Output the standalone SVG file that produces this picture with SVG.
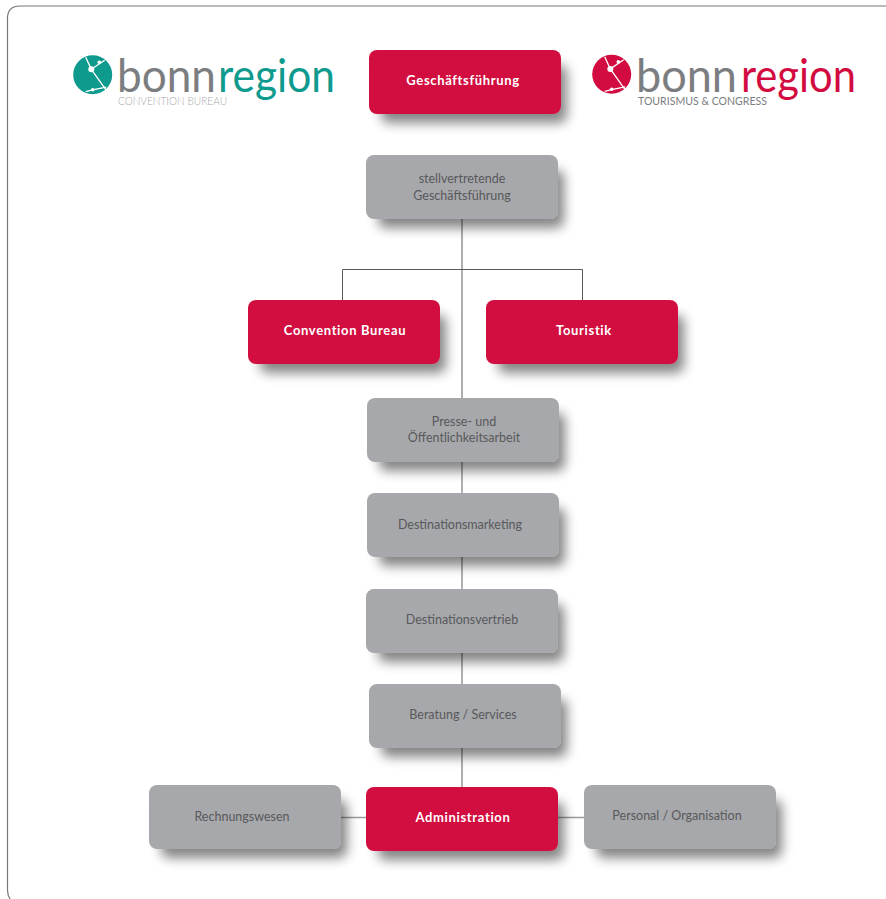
<svg xmlns="http://www.w3.org/2000/svg" width="886" height="899" viewBox="0 0 886 899">
<defs>
<filter id="sh" x="-15%" y="-30%" width="140%" height="200%"><feMorphology in="SourceAlpha" operator="erode" radius="3"/><feOffset dx="9" dy="12"/><feGaussianBlur stdDeviation="6"/><feColorMatrix values="0 0 0 0 0 0 0 0 0 0 0 0 0 0 0 0 0 0 .48 0" result="s"/><feMerge><feMergeNode in="s"/><feMergeNode in="SourceGraphic"/></feMerge></filter>
<g id="globe">
<circle r="19.5" fill="currentColor"/>
<g fill="none" stroke="#fff" stroke-width="1.3"><path d="M-7 -17.5L-1.4 -5.4L13.5 15.500M-1.4 -5.4L12 -14.5M-7 17L1 15L13.500 12.500"/></g>
<g fill="#fff"><circle cx="-1.400" cy="-5.400" r="3"/><circle cx="6.600" cy="-12.400" r="1.800"/><circle cx="0" cy="15" r="1.800"/></g>
</g>
</defs>
<style>
text{font-family:Lato,"Liberation Sans",sans-serif}
.n{filter:url(#sh)}
.r{fill:#d20c40}.g{fill:#a7a8ab}
.t{font-size:12.500px;fill:#58595b;text-anchor:middle}
.b{font-size:13px;font-weight:700;letter-spacing:.65px;fill:#fff;text-anchor:middle}
.w{font-size:46px;font-weight:400}
.s{font-size:11.500px;font-weight:300}
.c1{stroke:#9b9b9d;stroke-width:1.600;fill:none}
.c2{stroke:#59595b;stroke-width:1;fill:none}
</style>
<path d="M886 6H20Q7.500 6 7.500 18.500V890Q7.500 895 10 899" fill="none" stroke="#777" stroke-width="1.200"/>
<g id="connectors">
<path class="c1" d="M462 219V787M341 817.500H366M558 817.500H584"/>
<path class="c2" d="M342.500 300V269.500H582.500V300"/>
</g>
<g id="logo-convention" color="#0f9a8e">
<use href="#globe" x="92.700" y="74.700"/>
<text class="w" y="92" x="117" fill="#7c7d80" textLength="99" lengthAdjust="spacingAndGlyphs">bonn</text>
<text class="w" y="92" x="218" fill="#0f9a8e" textLength="117" lengthAdjust="spacingAndGlyphs">region</text>
<text class="s" x="118" y="105" fill="#a7a8ab" textLength="109" lengthAdjust="spacingAndGlyphs">CONVENTION BUREAU</text>
</g>
<g id="logo-tourismus" color="#d20c40">
<use href="#globe" x="611.700" y="74.300"/>
<text class="w" y="92" x="636" fill="#7c7d80" textLength="101" lengthAdjust="spacingAndGlyphs">bonn</text>
<text class="w" y="92" x="741" fill="#d20c40" textLength="115" lengthAdjust="spacingAndGlyphs">region</text>
<text class="s" style="font-weight:400" x="638" y="105" fill="#7c7d80" textLength="129" lengthAdjust="spacingAndGlyphs">TOURISMUS &amp; CONGRESS</text>
</g>
<g id="geschaeftsfuehrung"><rect class="n r" x="369" y="50" width="192" height="64" rx="8"/><text class="b" x="463" y="85">Geschäftsführung</text></g>
<g id="stellvertretende"><rect class="n g" x="366" y="155" width="192" height="64" rx="8"/><text class="t" x="462" y="183">stellvertretende</text><text class="t" x="462" y="200">Geschäftsführung</text></g>
<g id="convention-bureau"><rect class="n r" x="248" y="300" width="192" height="64" rx="8"/><text class="b" x="345" y="335">Convention Bureau</text></g>
<g id="touristik"><rect class="n r" x="486" y="300" width="192" height="64" rx="8"/><text class="b" x="584" y="335">Touristik</text></g>
<g id="presse"><rect class="n g" x="367" y="398" width="192" height="64" rx="8"/><text class="t" x="464" y="426">Presse- und</text><text class="t" x="464" y="442">Öffentlichkeitsarbeit</text></g>
<g id="destinationsmarketing"><rect class="n g" x="367" y="493" width="192" height="64" rx="8"/><text class="t" x="460" y="529">Destinationsmarketing</text></g>
<g id="destinationsvertrieb"><rect class="n g" x="366" y="589" width="192" height="64" rx="8"/><text class="t" x="462" y="624">Destinationsvertrieb</text></g>
<g id="beratung"><rect class="n g" x="369" y="684" width="192" height="64" rx="8"/><text class="t" x="463" y="719">Beratung / Services</text></g>
<g id="rechnungswesen"><rect class="n g" x="149" y="785" width="192" height="64" rx="8"/><text class="t" x="242" y="821">Rechnungswesen</text></g>
<g id="administration"><rect class="n r" x="366" y="787" width="192" height="64" rx="8"/><text class="b" x="463" y="822">Administration</text></g>
<g id="personal"><rect class="n g" x="584" y="785" width="192" height="64" rx="8"/><text class="t" x="677" y="820">Personal / Organisation</text></g>
</svg>
